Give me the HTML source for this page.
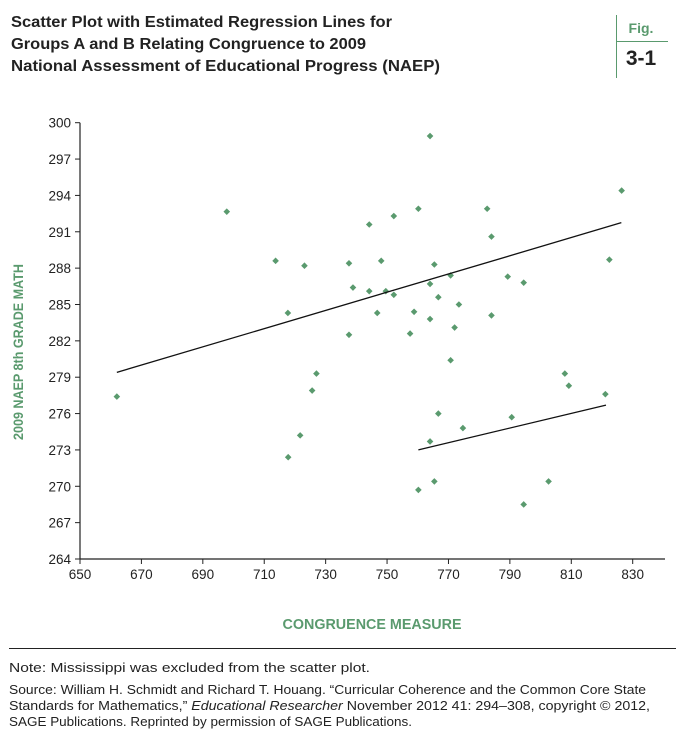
<!DOCTYPE html>
<html><head><meta charset="utf-8"><style>
html,body{margin:0;padding:0;background:#fff;}
svg{display:block;font-family:"Liberation Sans Narrow","Liberation Sans",sans-serif;}
</style></head><body>
<svg id="chart" width="684" height="744" viewBox="0 0 684 744">
<g font-weight="bold" font-size="16" fill="#222">
<text x="11" y="27" textLength="381" lengthAdjust="spacingAndGlyphs">Scatter Plot with Estimated Regression Lines for</text>
<text x="11" y="49" textLength="355" lengthAdjust="spacingAndGlyphs">Groups A and B Relating Congruence to 2009</text>
<text x="11" y="71" textLength="429" lengthAdjust="spacingAndGlyphs">National Assessment of Educational Progress (NAEP)</text>
</g>
<g>
<line x1="616.5" y1="15" x2="616.5" y2="78" stroke="#5a9a6e" stroke-width="1"/>
<line x1="616" y1="41.5" x2="668" y2="41.5" stroke="#5a9a6e" stroke-width="1"/>
<text x="641" y="33" text-anchor="middle" font-size="14" font-weight="bold" fill="#5a9a6e">Fig.</text>
<text x="641" y="65" text-anchor="middle" font-size="21" font-weight="bold" fill="#222">3-1</text>
</g>
<g id="axes"></g>
<g id="marks"></g>
<text x="372" y="629" text-anchor="middle" font-size="14.5" font-weight="bold" fill="#5a9a6e" textLength="179" lengthAdjust="spacingAndGlyphs">CONGRUENCE MEASURE</text>
<text transform="translate(23,352) rotate(-90)" text-anchor="middle" font-size="14" font-weight="bold" fill="#5a9a6e" textLength="176" lengthAdjust="spacingAndGlyphs">2009 NAEP 8th GRADE MATH</text>
<line x1="9" y1="648.5" x2="676" y2="648.5" stroke="#222" stroke-width="1"/>
<g font-size="13" fill="#222">
<text x="9" y="672" textLength="361" lengthAdjust="spacingAndGlyphs">Note: Mississippi was excluded from the scatter plot.</text>
<text x="9" y="694" textLength="637" lengthAdjust="spacingAndGlyphs">Source: William H. Schmidt and Richard T. Houang. “Curricular Coherence and the Common Core State</text>
<text x="9" y="710" textLength="641" lengthAdjust="spacingAndGlyphs">Standards for Mathematics,” <tspan font-style="italic">Educational Researcher</tspan> November 2012 41: 294–308, copyright © 2012,</text>
<text x="9" y="726" textLength="403" lengthAdjust="spacingAndGlyphs">SAGE Publications. Reprinted by permission of SAGE Publications.</text>
</g>
</svg>
<script>
const xTicks=[650,670,690,710,730,750,770,790,810,830];
const yTicks=[264,267,270,273,276,279,282,285,288,291,294,297,300];
const congruence=[697.8,713.7,723.1,737.6,738.9,717.7,737.6,727,725.6,662,721.7,717.8,764.0,826.4,760.2,752.2,744.2,782.6,784.0,748.1,765.4,822.4,770.7,789.3,794.5,764.0,744.2,749.6,752.2,766.7,773.4,746.8,758.8,784.0,764.0,772.0,757.5,770.7,807.9,809.2,821.1,766.7,790.6,774.7,764.0,802.6,765.4,760.2,794.5];
const naep=[292.66,288.6,288.2,288.4,286.4,284.3,282.5,279.3,277.9,277.4,274.2,272.4,298.9,294.4,292.9,292.3,291.6,292.9,290.6,288.6,288.3,288.7,287.4,287.3,286.8,286.7,286.1,286.1,285.8,285.6,285.0,284.3,284.4,284.1,283.8,283.1,282.6,280.4,279.3,278.3,277.6,276.0,275.7,274.8,273.7,270.4,270.4,269.7,268.5];
const lineAx=[662,826.3], lineAy=[279.4,291.75];
const lineBx=[760.2,821.3], lineBy=[273.0,276.7];
const NS='http://www.w3.org/2000/svg';
const X0=80,X1=632.7,Y0=559,Y1=122.7;
function sx(v){return X0+(v-650)/(830-650)*(X1-X0);}
function sy(v){return Y0-(v-264)/(300-264)*(Y0-Y1);}
function mk(t,a,p){const e=document.createElementNS(NS,t);for(const k in a)e.setAttribute(k,a[k]);p.appendChild(e);return e;}
const ax=document.getElementById('axes'), mg=document.getElementById('marks');
let e=mk('line',{x1:X0,y1:Y1,x2:X0,y2:Y0,stroke:'#222','stroke-width':1.2},ax);


e=mk('line',{x1:X0,y1:Y0,x2:665,y2:Y0,stroke:'#222','stroke-width':1.2},ax);


xTicks.forEach(v=>{
 const t=mk('line',{x1:sx(v),y1:Y0,x2:sx(v),y2:Y0+5,stroke:'#222'},ax);
 
 
 const l=mk('text',{x:sx(v),y:Y0+20,'text-anchor':'middle','font-size':13.5,fill:'#222'},ax);
 l.textContent=v;
 
 
});
yTicks.forEach(v=>{
 const t=mk('line',{x1:X0-5,y1:sy(v),x2:X0,y2:sy(v),stroke:'#222'},ax);
 
 
 const l=mk('text',{x:X0-9,y:sy(v)+5,'text-anchor':'end','font-size':13.5,fill:'#222'},ax);
 l.textContent=v;
 
 
});
congruence.forEach((c,i)=>{
 const x=sx(c),y=sy(naep[i]);
 const p=mk('path',{d:`M${x} ${y-3.3}L${x+3.3} ${y}L${x} ${y+3.3}L${x-3.3} ${y}Z`,fill:'#5a9a6e'},mg);
 
 
});
e=mk('line',{x1:sx(lineAx[0]),y1:sy(lineAy[0]),x2:sx(lineAx[1]),y2:sy(lineAy[1]),stroke:'#111','stroke-width':1.3},mg);


e=mk('line',{x1:sx(lineBx[0]),y1:sy(lineBy[0]),x2:sx(lineBx[1]),y2:sy(lineBy[1]),stroke:'#111','stroke-width':1.3},mg);


</script>
</body></html>
